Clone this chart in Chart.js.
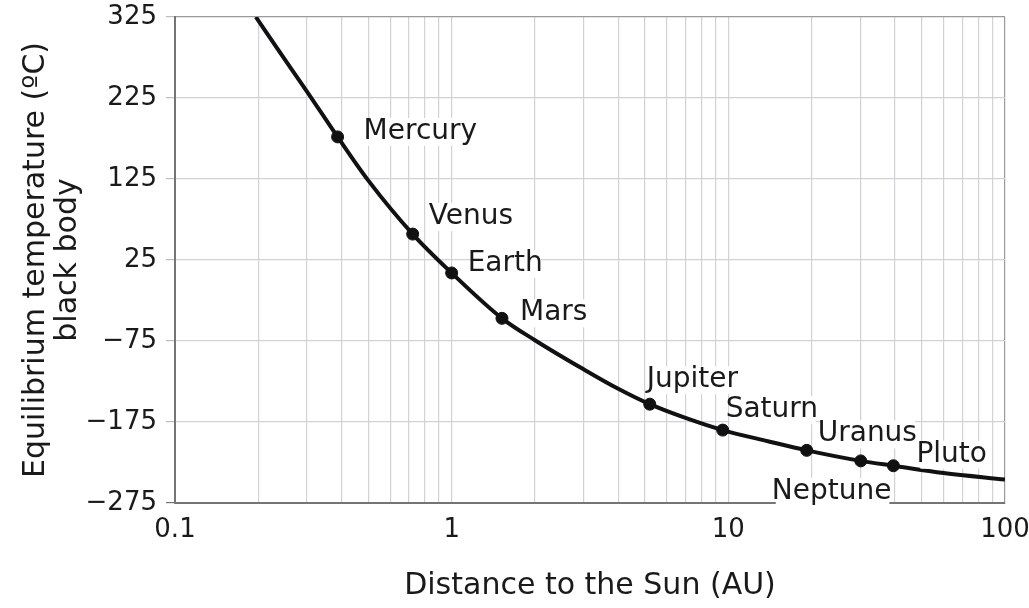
<!DOCTYPE html>
<html>
<head>
<meta charset="utf-8">
<script src="https://cdn.jsdelivr.net/npm/chart.js@4"></script>
<style>
    body { margin: 0; background: #ffffff; }
    #wrap { width: 1029px; height: 608px; }
</style>
</head>
<body>
<div id="wrap"><canvas id="chart" width="1029" height="608"></canvas></div>
<script>
// curve (distance in AU, temperature in ºC)
const curveDistance = [0.196, 0.25, 0.3, 0.387, 0.5, 0.723, 1, 1.52, 2, 3, 4, 5.2, 7, 9.54, 14, 19.2, 30.1, 39.5, 60, 100];
const curveTemp = [325, 272, 233, 177, 123, 57, 9, -47, -74, -110, -134, -153, -170, -185, -199, -210, -223, -229, -238, -246];

// planets
const planetNames = ["Mercury", "Venus", "Earth", "Mars", "Jupiter", "Saturn", "Uranus", "Neptune", "Pluto"];
const planetDistance = [0.387, 0.723, 1, 1.52, 5.2, 9.54, 19.2, 30.1, 39.5];
const planetTemp = [177, 57, 9, -47, -153, -185, -210, -223, -229];

// axes
const yTickValues = [-275, -175, -75, 25, 125, 225, 325];
const yTickLabels = ["\u2212275", "\u2212175", "\u221275", "25", "125", "225", "325"];
const xGridValues = [0.1, 0.2, 0.3, 0.4, 0.5, 0.6, 0.7, 0.8, 0.9,
    1, 2, 3, 4, 5, 6, 7, 8, 9,
    10, 20, 30, 40, 50, 60, 70, 80, 90, 100];
const xTickLabels = { 0.1: "0.1", 1: "1", 10: "10", 100: "100" };

// where each planet name sits relative to its dot (px)
const labelOffset = {
    Mercury: [26, 2], Venus: [16, -10], Earth: [16, -2], Mars: [18, 2],
    Jupiter: [-3, -17], Saturn: [3, -13], Uranus: [11, -9], Neptune: [-89, 38], Pluto: [23, -4]
};

const FONT = "'DejaVu Sans', sans-serif";
const gridColor = "#d2d0d8";
const axisColor = "#77737a";

const planetLabels = {
    id: "planetLabels",
    afterDraw(chart) {
        const ctx = chart.ctx;
        const meta = chart.getDatasetMeta(1);
        ctx.save();
        ctx.font = "28px " + FONT;
        ctx.textBaseline = "alphabetic";
        ctx.textAlign = "left";
        meta.data.forEach((pt, i) => {
            const name = planetNames[i];
            const off = labelOffset[name];
            const x = pt.x + off[0];
            const y = pt.y + off[1];
            const w = ctx.measureText(name).width;
            ctx.fillStyle = "#ffffff";
            ctx.fillRect(x + 4, y - 21, w - 6, 28);
            ctx.fillStyle = "#1a1a1a";
            ctx.fillText(name, x, y);
        });
        ctx.restore();
    }
};

new Chart(document.getElementById("chart"), {
    type: "line",
    data: {
        datasets: [{
            data: curveDistance.map((d, i) => ({ x: d, y: curveTemp[i] })),
            borderColor: "#111111",
            borderWidth: 4,
            pointRadius: 0,
            cubicInterpolationMode: "monotone",
            fill: false
        }, {
            data: planetDistance.map((d, i) => ({ x: d, y: planetTemp[i] })),
            showLine: false,
            pointRadius: 6,
            pointBackgroundColor: "#111111",
            pointBorderColor: "#111111"
        }]
    },
    options: {
        responsive: false,
        animation: false,
        layout: { padding: { top: 17, right: 24, left: 0, bottom: 0 } },
        plugins: { legend: { display: false }, tooltip: { enabled: false } },
        scales: {
            x: {
                type: "logarithmic",
                min: 0.1,
                max: 100,
                afterBuildTicks: (scale) => { scale.ticks = xGridValues.map(v => ({ value: v })); },
                afterFit: (scale) => {
                    scale.height = 105;
                    scale.paddingLeft = 0;
                    scale.paddingRight = 0;
                },
                ticks: {
                    autoSkip: false,
                    maxRotation: 0,
                    padding: 12,
                    color: "#1a1a1a",
                    font: { family: FONT, size: 26 },
                    callback: (v) => xTickLabels[v] || ""
                },
                grid: {
                    drawTicks: false,
                    color: (c) => (c.tick && c.tick.value === 100) ? "#9c98a0" : gridColor,
                    lineWidth: 1.2
                },
                border: { display: true, color: axisColor, width: 2 },
                title: {
                    display: true,
                    text: "Distance to the Sun (AU)",
                    color: "#1a1a1a",
                    font: { family: FONT, size: 30 },
                    padding: { top: 0, bottom: 4 }
                }
            },
            y: {
                min: -275,
                max: 325,
                afterBuildTicks: (scale) => { scale.ticks = yTickValues.map(v => ({ value: v })); },
                afterFit: (scale) => {
                    scale.width = 175;
                    scale.paddingTop = 0;
                    scale.paddingBottom = 0;
                },
                ticks: {
                    padding: 9,
                    color: "#1a1a1a",
                    font: { family: FONT, size: 26 },
                    callback: (v) => yTickLabels[yTickValues.indexOf(v)]
                },
                grid: {
                    color: (c) => (c.tick && c.tick.value === 325) ? "#9c98a0" : gridColor,
                    tickColor: (c) => (c.tick && c.tick.value === -275) ? axisColor : "#bdbac2",
                    tickLength: 9,
                    lineWidth: 1.2
                },
                border: { display: true, color: axisColor, width: 2 },
                title: {
                    display: true,
                    text: ["Equilibrium temperature (\u00baC)", "black body"],
                    color: "#1a1a1a",
                    font: { family: FONT, size: 30, lineHeight: 1.07 },
                    padding: { top: 20, bottom: 0 }
                }
            }
        }
    },
    plugins: [planetLabels]
});
</script>
</body>
</html>
